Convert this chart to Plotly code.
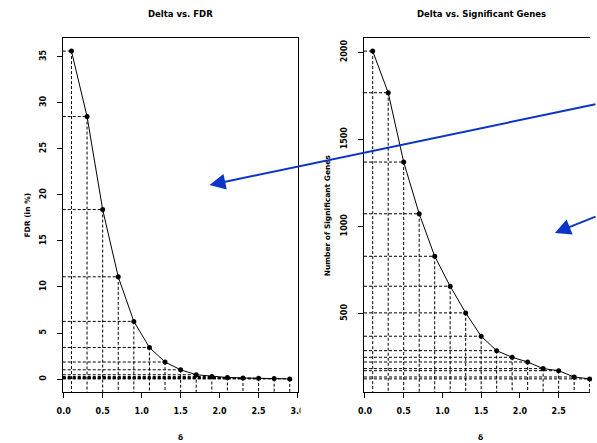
import plotly.graph_objects as go

# ---------------- data ----------------
delta = [0.1, 0.3, 0.5, 0.7, 0.9, 1.1, 1.3, 1.5, 1.7, 1.9, 2.1, 2.3, 2.5, 2.7, 2.9]
fdr = [35.6, 28.5, 18.4, 11.1, 6.26, 3.43, 1.85, 1.01, 0.47, 0.28, 0.17, 0.12, 0.10, 0.05, 0.02]
sig_genes = [2007, 1768, 1370, 1073, 829, 657, 504, 370, 287, 249, 222, 184, 172, 136, 125]
x_ticks = [0.0, 0.5, 1.0, 1.5, 2.0, 2.5, 3.0]
x_ticktext = ["0.0", "0.5", "1.0", "1.5", "2.0", "2.5", "3.0"]
fdr_ticks = [0, 5, 10, 15, 20, 25, 30, 35]
gene_ticks = [500, 1000, 1500, 2000]

W, H = 597, 443
FONT = "DejaVu Sans"
BLUE = "#0a34c8"


def rrange(v):
    lo, hi = min(v), max(v)
    e = 0.04 * (hi - lo)
    return [lo - e, hi + e]


def guides(xs, ys, x0, y0):
    gx, gy = [], []
    for x, y in zip(xs, ys):
        gx += [x0, x, None, x, x, None]
        gy += [y, y, None, y, y0, None]
    return gx, gy


xr = rrange(delta)
yr_f = rrange(fdr)
yr_g = rrange(sig_genes)
# right panel is cut by the picture edge: its box would end at ~605.5 px
xr_right = [xr[0], xr[0] + (xr[1] - xr[0]) * (W - 366) / (605.5 - 366)]

fig = go.Figure()

gx, gy = guides(delta, fdr, xr[0], yr_f[0])
fig.add_trace(go.Scatter(x=gx, y=gy, mode="lines", xaxis="x", yaxis="y",
                         line=dict(color="black", width=1, dash="3px,2px"),
                         hoverinfo="skip", showlegend=False))
fig.add_trace(go.Scatter(x=delta, y=fdr, mode="lines+markers", xaxis="x", yaxis="y",
                         line=dict(color="black", width=1),
                         marker=dict(color="black", size=5, symbol="circle"),
                         showlegend=False, cliponaxis=False))

gx, gy = guides(delta, sig_genes, xr_right[0], yr_g[0])
fig.add_trace(go.Scatter(x=gx, y=gy, mode="lines", xaxis="x2", yaxis="y2",
                         line=dict(color="black", width=1, dash="3px,2px"),
                         hoverinfo="skip", showlegend=False))
fig.add_trace(go.Scatter(x=delta, y=sig_genes, mode="lines+markers", xaxis="x2", yaxis="y2",
                         line=dict(color="black", width=1),
                         marker=dict(color="black", size=5, symbol="circle"),
                         showlegend=False, cliponaxis=False))

ydom = [1 - 392 / H, 1 - 38 / H]
tickfont = dict(family=FONT, size=8, color="black", weight="bold")

common_x = dict(tickvals=x_ticks, ticktext=x_ticktext, ticks="outside", ticklen=5,
                tickwidth=1, tickcolor="black", showline=True, linecolor="black",
                linewidth=1, showgrid=False, zeroline=False, tickfont=tickfont,
                ticklabelstandoff=6)
common_y = dict(ticks="outside", ticklen=5, tickwidth=1, tickcolor="black",
                showline=True, linecolor="black", linewidth=1, showgrid=False,
                zeroline=False, tickfont=tickfont, tickangle=-90,
                ticklabelstandoff=8)

fig.update_layout(
    width=W, height=H, margin=dict(l=0, r=0, t=0, b=0),
    paper_bgcolor="white", plot_bgcolor="white",
    xaxis=dict(domain=[58 / W, 299 / W], range=xr, anchor="y", mirror=True, **common_x),
    yaxis=dict(domain=ydom, range=yr_f, anchor="x", mirror=True,
               tickvals=fdr_ticks, **common_y),
    xaxis2=dict(domain=[366 / W, 1.0], range=xr_right, anchor="y2", mirror=True, **common_x),
    yaxis2=dict(domain=ydom, range=yr_g, anchor="x2", mirror=False,
                tickvals=gene_ticks, **common_y),
)

title_font = dict(family=FONT, size=8.5, color="black", weight="bold")
lab_font = dict(family=FONT, size=7.5, color="black", weight="bold")

annotations = [
    dict(text="Delta vs. FDR", x=178.5 / W, y=1 - 14 / H, font=title_font),
    dict(text="Delta vs. Significant Genes", x=486 / W, y=1 - 14 / H, font=title_font),
    dict(text="FDR (in %)", x=21 / W, y=1 - 215 / H, textangle=-90, font=lab_font),
    dict(text="Number of Significant Genes", x=328.5 / W, y=1 - 215 / H, textangle=-90, font=lab_font),
    dict(text="δ", x=178 / W, y=1 - 437 / H, font=lab_font),
    dict(text="δ", x=485.5 / W, y=1 - 437 / H, font=lab_font),
]
for a in annotations:
    a.update(xref="paper", yref="paper", showarrow=False, xanchor="center", yanchor="middle")

arrows = [
    dict(x=208 / W, y=1 - 185 / H, ax=412, ay=-81),
    dict(x=561 / W, y=1 - 233 / H, ax=60, ay=-17),
]
for a in arrows:
    a.update(xref="paper", yref="paper", text="", showarrow=True, arrowhead=2,
             arrowsize=1.6, arrowwidth=2, arrowcolor=BLUE, standoff=0)

fig.update_layout(annotations=annotations + arrows)

# the left panel's last tick label is cut by the neighbouring panel in the original
fig.add_shape(type="rect", xref="paper", yref="paper", x0=301 / W, x1=345 / W,
              y0=1 - 425 / H, y1=1 - 398 / H, fillcolor="white", line=dict(width=0),
              layer="above")

fig.write_html("out.html")
